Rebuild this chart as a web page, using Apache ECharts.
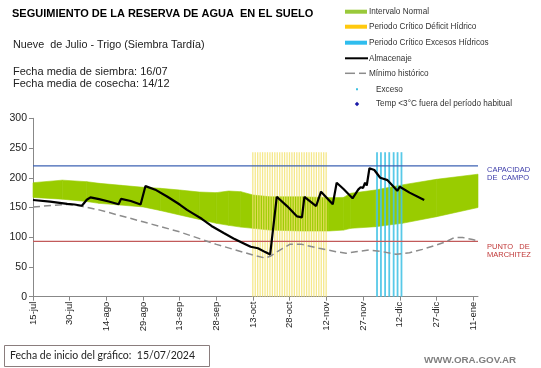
<!DOCTYPE html>
<html><head><meta charset="utf-8">
<script src="https://cdn.jsdelivr.net/npm/echarts@6/dist/echarts.min.js"></script>
<style>html,body{margin:0;padding:0;background:#fff}#c{width:541px;height:368px}</style>
</head><body><div id="c"></div>
<script>
// Days counted from 15-jul-2024
const tickDays = [0, 15, 30, 45, 60, 75, 90, 105, 120, 135, 150, 165, 180];
const tickLabels = ['15-jul', '30-jul', '14-ago', '29-ago', '13-sep', '28-sep', '13-oct', '28-oct', '12-nov', '27-nov', '12-dic', '27-dic', '11-ene'];

const bandDays  = [0, 12, 22, 27, 36, 45, 52, 60, 68, 75, 80, 85, 90, 97, 110, 121, 127, 130, 140, 151, 165, 182];
const bandUpper = [191.7, 196, 193.4, 190.7, 187.3, 184, 182.3, 179.4, 176, 175, 177.7, 176.6, 171, 168, 168, 166.5, 167, 174, 179.4, 188, 197.4, 206];
const bandLower = [167, 164, 160, 157, 154, 151, 145, 137.4, 130, 123.4, 120, 117, 115, 112, 110.5, 110.5, 112, 115, 117.7, 123.4, 134.5, 150];

const storageDays   = [0, 7, 14, 17, 20, 22, 23.5, 27, 31, 35, 36, 40, 44, 46, 50, 55, 60, 63, 65, 69, 73, 78, 82, 86, 89, 92, 95, 97, 99.7, 104, 108, 110, 111, 115.8, 117.8, 122.6, 124.2, 127, 130.7, 133, 134, 135, 135.8, 136.5, 137.6, 139.6, 142, 145, 149, 150, 154, 160];
const storageValues = [162.6, 160, 156, 155, 153, 163, 167, 164, 160, 155.5, 164.5, 161, 155, 186, 180, 168, 155, 146, 141, 131, 119, 107, 98, 90, 84, 81.5, 75, 71, 168, 152, 135, 133.5, 168, 152.5, 176.6, 155.3, 191.7, 181, 165.4, 180, 184, 183, 191.7, 187, 216, 213, 200, 196, 178, 185, 175, 162.6];

const minDays   = [0, 14, 20, 27, 45, 60, 75, 90, 95, 97, 102, 105, 110, 117, 124, 128, 132, 137.6, 143, 148.5, 154, 159.3, 164.8, 168.9, 172.3, 175.7, 179.8, 182];
const minValues = [151, 155.3, 152, 146, 126, 109, 88, 70, 65, 68, 81, 88, 88, 81.4, 75.7, 73, 75.7, 78.5, 75.7, 71.3, 74, 79.6, 86.8, 92.3, 99.6, 99.6, 96.2, 94];

const deficitDays = [90, 91, 92, 93, 94, 95, 96, 97, 98, 99, 100, 101, 102, 103, 104, 105, 106, 107, 108, 109, 110, 111, 112, 113, 114, 115, 116, 117, 118, 119, 120];
const excessDays  = [140.7, 142.3, 144, 145.7, 147.5, 149.1, 150.7];
const periodTop = 243;

const fieldCapacity = 220;
const wiltingPoint = 93;
const axisDays = [0, 182];

const FONT = '"Liberation Sans", Arial, sans-serif';

const pairs = (xs, ys) => xs.map((x, i) => [x, ys[i]]);

const chart = echarts.init(document.getElementById('c'), null, {renderer: 'canvas'});

const legendRows = [
  {y: 11.7, text: 'Intervalo Normal', kind: 'rect', color: '#99c93a'},
  {y: 26.7, text: 'Periodo Crítico Déficit Hídrico', kind: 'rect', color: '#ffc90e'},
  {y: 42.7, text: 'Periodo Crítico Excesos Hídricos', kind: 'rect', color: '#2fbdee'},
  {y: 58.3, text: 'Almacenaje', kind: 'line', color: '#000'},
  {y: 73.3, text: 'Mínimo histórico', kind: 'dash', color: '#8c8c8c'},
  {y: 89.3, text: 'Exceso', kind: 'dot', color: '#3cc0e0'},
  {y: 104, text: 'Temp <3°C fuera del período habitual', kind: 'diamond', color: '#1a1aa8'}
];
const graphics = [];
legendRows.forEach(r => {
  let tx = 369;
  if (r.kind === 'rect') graphics.push({type: 'rect', shape: {x: 345, y: r.y - 2, width: 22, height: 4}, style: {fill: r.color}});
  if (r.kind === 'line') graphics.push({type: 'line', shape: {x1: 345, y1: r.y, x2: 368, y2: r.y}, style: {stroke: r.color, lineWidth: 2}});
  if (r.kind === 'dash') {
    graphics.push({type: 'line', shape: {x1: 345, y1: r.y, x2: 355, y2: r.y}, style: {stroke: r.color, lineWidth: 1.5}});
    graphics.push({type: 'line', shape: {x1: 359, y1: r.y, x2: 366, y2: r.y}, style: {stroke: r.color, lineWidth: 1.5}});
  }
  if (r.kind === 'dot') { graphics.push({type: 'rect', shape: {x: 356, y: r.y - 1, width: 2, height: 2}, style: {fill: r.color}}); tx = 376; }
  if (r.kind === 'diamond') { graphics.push({type: 'polygon', shape: {points: [[357, r.y - 2.2], [359.2, r.y], [357, r.y + 2.2], [354.8, r.y]]}, style: {fill: r.color}}); tx = 376; }
  graphics.push({type: 'text', x: tx, y: r.y, style: {text: r.text, font: '8.2px ' + FONT, fill: '#333', textVerticalAlign: 'middle'}});
});

graphics.push(
  {type: 'text', x: 12, y: 14, style: {text: 'SEGUIMIENTO DE LA RESERVA DE AGUA  EN EL SUELO', font: 'bold 11px ' + FONT, fill: '#000', textVerticalAlign: 'middle'}},
  {type: 'text', x: 13, y: 45, style: {text: 'Nueve  de Julio - Trigo (Siembra Tardía)', font: '10.8px ' + FONT, fill: '#222', textVerticalAlign: 'middle'}},
  {type: 'text', x: 13, y: 72, style: {text: 'Fecha media de siembra: 16/07', font: '11px ' + FONT, fill: '#222', textVerticalAlign: 'middle'}},
  {type: 'text', x: 13, y: 84, style: {text: 'Fecha media de cosecha: 14/12', font: '11px ' + FONT, fill: '#222', textVerticalAlign: 'middle'}},
  {type: 'text', x: 487, y: 170, style: {text: 'CAPACIDAD', font: '7.5px ' + FONT, fill: '#3a3aa8', textVerticalAlign: 'middle'}},
  {type: 'text', x: 487, y: 177.5, style: {text: 'DE  CAMPO', font: '7.5px ' + FONT, fill: '#3a3aa8', textVerticalAlign: 'middle'}},
  {type: 'text', x: 487, y: 246.5, style: {text: 'PUNTO   DE', font: '7.5px ' + FONT, fill: '#c03838', textVerticalAlign: 'middle'}},
  {type: 'text', x: 487, y: 255, style: {text: 'MARCHITEZ', font: '7.5px ' + FONT, fill: '#c03838', textVerticalAlign: 'middle'}},
  {type: 'rect', shape: {x: 4.5, y: 345.5, width: 205, height: 21}, style: {fill: '#fff', stroke: '#8a7d7d', lineWidth: 1}},
  {type: 'text', x: 10, y: 356, style: {text: 'Fecha de inicio del gráfico:  15/07/2024', font: '10.5px Lato, "Open Sans", sans-serif', fill: '#222', textVerticalAlign: 'middle'}},
  {type: 'text', x: 424, y: 360, style: {text: 'WWW.ORA.GOV.AR', font: 'bold 9.8px ' + FONT, fill: '#7f7f7f', textVerticalAlign: 'middle'}}
);

chart.setOption({
  animation: false,
  backgroundColor: '#fff',
  grid: {left: 33, top: 118.3, right: 63, bottom: 71.3, containLabel: false, outerBoundsMode: 'none'},
  xAxis: {
    type: 'value', min: 0, max: 182,
    axisLine: {lineStyle: {color: '#888', width: 1}},
    axisTick: {show: true, customValues: tickDays, length: 4, lineStyle: {color: '#888'}},
    axisLabel: {customValues: tickDays, rotate: 90, fontSize: 9.5, fontFamily: FONT, color: '#222', margin: 5,
      formatter: v => tickLabels[tickDays.indexOf(v)] || ''},
    splitLine: {show: false}
  },
  yAxis: {
    type: 'value', min: 0, max: 300, interval: 50,
    name: 'Milímetros', nameLocation: 'middle', nameGap: 19, nameRotate: 90,
    nameTextStyle: {fontSize: 7, fontFamily: FONT, color: '#222'},
    axisLine: {show: true, lineStyle: {color: '#888', width: 1}},
    axisTick: {show: true, length: 4, lineStyle: {color: '#888'}},
    axisLabel: {fontSize: 10.5, fontFamily: FONT, color: '#222', margin: 6},
    splitLine: {show: false}
  },
  graphic: graphics,
  series: [
    {type: 'custom', name: 'Intervalo Normal', silent: true, z: 1,
      data: bandDays.map((d, i) => [d, bandLower[i], bandUpper[i]]),
      encode: {x: 0, y: [1, 2]},
      renderItem: (params, api) => {
        const i = params.dataIndexInside;
        if (i >= params.dataInsideLength - 1) return null;
        const p1 = api.coord([api.value(0, i), api.value(1, i)]);
        const p2 = api.coord([api.value(0, i), api.value(2, i)]);
        const p3 = api.coord([api.value(0, i + 1), api.value(2, i + 1)]);
        const p4 = api.coord([api.value(0, i + 1), api.value(1, i + 1)]);
        return {type: 'polygon', shape: {points: [p1, p2, p3, p4]},
          style: {fill: '#99cc00', stroke: '#99cc00', lineWidth: 0.6}};
      }},
    {type: 'bar', name: 'Periodo Crítico Déficit Hídrico', data: deficitDays.map(d => [d, periodTop]), barWidth: 1.3,
      itemStyle: {color: 'rgba(242,226,110,0.8)'}, silent: true, z: 2},
    {type: 'bar', name: 'Periodo Crítico Excesos Hídricos', data: excessDays.map(d => [d, periodTop]), barWidth: 1.8, barGap: '-100%',
      itemStyle: {color: 'rgba(70,195,230,0.9)'}, silent: true, z: 2},
    {type: 'line', name: 'Capacidad de campo', data: axisDays.map(d => [d, fieldCapacity]), symbol: 'none', z: 3, silent: true,
      lineStyle: {color: '#3d62b3', width: 1.2}, itemStyle: {color: '#3d62b3'}},
    {type: 'line', name: 'Punto de marchitez', data: axisDays.map(d => [d, wiltingPoint]), symbol: 'none', z: 3, silent: true,
      lineStyle: {color: '#c25a5a', width: 1.1}, itemStyle: {color: '#c25a5a'}},
    {type: 'line', name: 'Mínimo histórico', data: pairs(minDays, minValues), symbol: 'none',
      lineStyle: {color: '#8c8c8c', width: 1.5, type: [7, 4]}, z: 3},
    {type: 'line', name: 'Almacenaje', data: pairs(storageDays, storageValues), symbol: 'none',
      lineStyle: {color: '#000', width: 2.2}, z: 4}
  ]
});
</script></body></html>
